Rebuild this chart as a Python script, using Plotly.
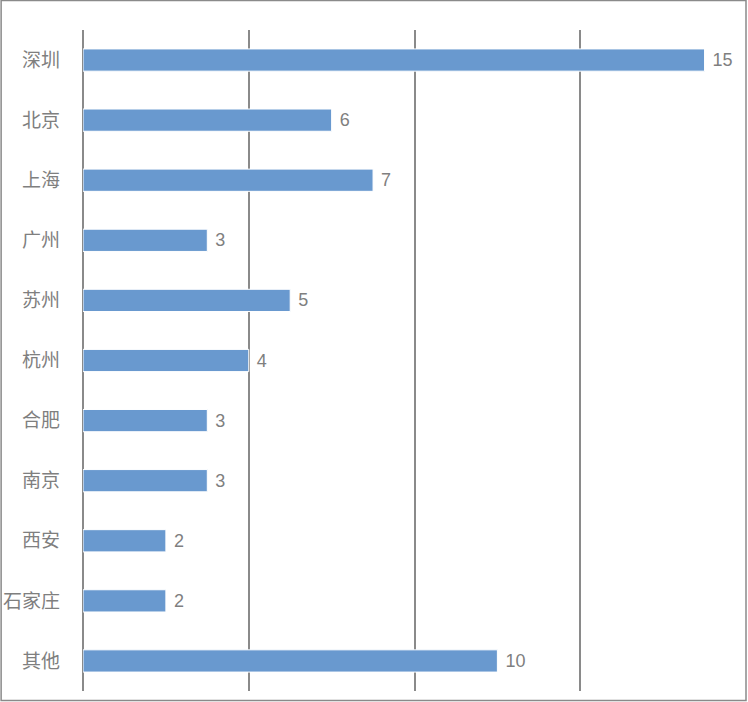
import plotly.graph_objects as go

cities = ["深圳", "北京", "上海", "广州", "苏州", "杭州", "合肥", "南京", "西安", "石家庄", "其他"]
counts = [15, 6, 7, 3, 5, 4, 3, 3, 2, 2, 10]
x_ticks = [0, 4, 8, 12]

W, H = 748, 702
L, R, T, B = 82.5, 1.5, 30, 11
pw = W - L - R
ph = H - T - B

fig = go.Figure(go.Bar(
    y=cities, x=counts, orientation="h",
    marker=dict(color="#6999cf", line=dict(color="white", width=1)),
    width=0.37,
    text=[f" {v}" for v in counts], textposition="outside", cliponaxis=False,
    textfont=dict(size=18, color="#7f7f7f"),
))

fig.update_layout(
    width=W, height=H,
    margin=dict(l=L, r=R, t=T, b=B, pad=0),
    paper_bgcolor="white", plot_bgcolor="white",
    font=dict(family="Liberation Sans, Noto Sans CJK SC, sans-serif", color="#7f7f7f", size=18),
    showlegend=False,
    xaxis=dict(range=[0, 16], tickvals=x_ticks, showticklabels=False, showgrid=True,
               gridcolor="#8a8a8a", gridwidth=2, zeroline=True, zerolinecolor="#8a8a8a",
               zerolinewidth=2, fixedrange=True),
    yaxis=dict(autorange="reversed", showgrid=False, ticks="", ticklabelstandoff=22,
               tickfont=dict(size=19, color="#7f7f7f", family="Noto Sans CJK SC, sans-serif")),
    shapes=[dict(type="rect", xref="paper", yref="paper",
                 x0=-82 / pw, x1=1 + 0.0 / pw, y0=-9.5 / ph, y1=1 + 29.5 / ph,
                 line=dict(color="#8a8a8a", width=1.5), layer="above")],
)

fig.write_html("out.html")
